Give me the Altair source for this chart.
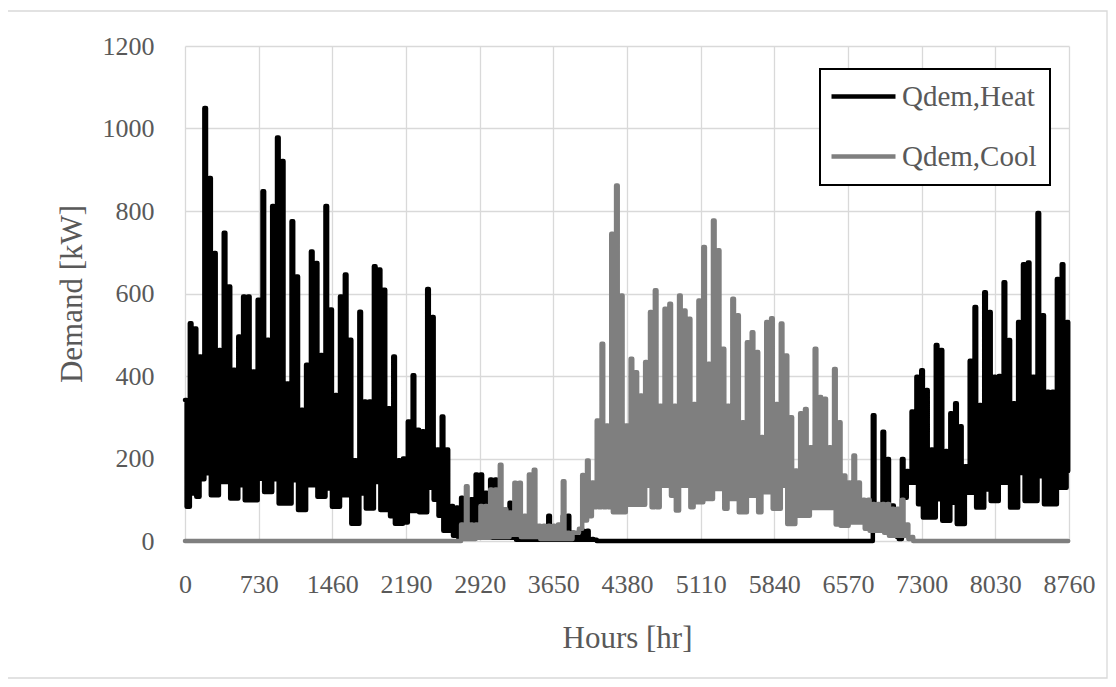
import altair as alt
import pandas as pd

# Hourly demand read off the picture as 2-day windows:
# the window's peak level is held first, then its trough level.
WINDOW_HOURS = 48
PEAK_HOURS = 16

heat_hi = ([342, 528, 515, 447, 1050, 880, 698, 463, 747, 617,
            415, 496, 593, 593, 411, 585, 848, 488, 812, 978,
            921, 382, 775, 641, 318, 427, 702, 674, 451, 812,
            561, 354, 593, 646, 488, 196, 556, 338, 338, 666,
            658, 609, 322, 447, 196, 200, 290, 402, 270, 266,
            611, 543, 222, 302, 222, 85, 81, 105, 77, 101,
            161, 161, 117, 149, 149, 69, 75, 93, 60, 20,
            20, 37, 37, 20, 20, 61, 20, 20, 61, 61,
            20, 10, 25, 25, 5]
           + [0] * 57
           + [305, 86, 265, 199, 86, 10, 199, 170, 314, 398,
              414, 366, 222, 475, 463, 218, 310, 334, 278, 181,
              437, 567, 330, 603, 555, 398, 400, 627, 487, 334,
              531, 671, 675, 398, 795, 547, 362, 362, 635, 671, 531])

heat_lo = ([83, 115, 107, 150, 164, 111, 111, 143, 143, 103,
            103, 135, 99, 99, 99, 151, 119, 119, 150, 91,
            91, 91, 147, 75, 75, 135, 135, 107, 107, 127,
            83, 83, 111, 111, 42, 42, 115, 79, 79, 143,
            75, 75, 60, 42, 42, 45, 73, 73, 70, 70,
            129, 100, 61, 25, 25, 13, 10, 8, 8, 8,
            8, 8, 8, 8, 8, 8, 8, 8]
           + [3] * 17
           + [0] * 57
           + [86, 86, 70, 70, 70, 5, 105, 141, 141, 89,
              57, 57, 57, 101, 49, 49, 93, 41, 41, 117,
              117, 81, 81, 125, 97, 97, 141, 141, 81, 81,
              165, 97, 97, 97, 157, 89, 89, 89, 129, 129, 170])

cool_hi = ([0] * 57
           + [40, 133, 40, 40, 85, 85, 125, 125, 185, 77,
              69, 141, 141, 61, 161, 173, 37, 37, 37, 37,
              40, 145, 20, 20, 20, 160, 195, 142, 292, 478,
              280, 745, 862, 595, 280, 442, 409, 353, 434, 555,
              608, 328, 563, 575, 328, 595, 559, 539, 332, 583,
              713, 430, 777, 705, 466, 328, 587, 547, 288, 482,
              506, 458, 252, 531, 540, 332, 527, 450, 300, 171,
              310, 320, 227, 466, 349, 345, 227, 417, 288, 159,
              142, 207, 142, 100, 100, 90, 90, 90, 90, 78,
              78, 100, 40, 10]
           + [0] * 32)

cool_lo = ([0] * 57
           + [5, 5, 5, 8, 8, 8, 10, 10, 10, 10,
              15, 15, 10, 10, 10, 10, 5, 5, 5, 5,
              5, 5, 5, 20, 30, 50, 60, 82, 82, 82,
              82, 70, 70, 70, 88, 88, 88, 88, 134, 82,
              82, 134, 134, 110, 74, 134, 134, 82, 94, 94,
              102, 102, 126, 126, 78, 102, 102, 70, 70, 110,
              110, 70, 118, 118, 78, 78, 134, 41, 41, 61,
              61, 61, 80, 80, 80, 80, 80, 40, 37, 37,
              45, 45, 45, 30, 25, 25, 25, 20, 13, 13,
              13, 13, 5, 0]
           + [0] * 32)

series_names = ["Qdem,Heat", "Qdem,Cool"]
series_colors = ["#000000", "#7f7f7f"]
x_ticks = [0, 730, 1460, 2190, 2920, 3650, 4380, 5110, 5840, 6570, 7300, 8030, 8760]
y_ticks = [0, 200, 400, 600, 800, 1000, 1200]


def build(name, hi, lo):
    rows = []
    for i, (h, l) in enumerate(zip(hi, lo)):
        rows.append({"hr": WINDOW_HOURS * i, "kW": h, "s": name})
        rows.append({"hr": WINDOW_HOURS * i + PEAK_HOURS, "kW": l, "s": name})
    return pd.DataFrame(rows)


heat_df = build(series_names[0], heat_hi, heat_lo)
cool_df = build(series_names[1], cool_hi, cool_lo)

FONT = "Liberation Serif"
TXT = "#595959"

x_enc = alt.X("hr:Q",
              scale=alt.Scale(domain=[0, 8760], nice=False, zero=False),
              axis=alt.Axis(values=x_ticks, format="d", labelFontSize=26, labelPadding=30,
                            labelFlush=False, labelOverlap=False,
                            title="Hours [hr]", titleFontSize=31,
                            titleY=106, titleBaseline="alphabetic"))
y_enc = alt.Y("kW:Q",
              scale=alt.Scale(domain=[0, 1200], nice=False),
              axis=alt.Axis(values=y_ticks, format="d", labelFontSize=26, labelPadding=31,
                            labelFlush=False, labelOverlap=False,
                            title="Demand [kW]", titleFontSize=31,
                            titleX=-113, titleY=247.5, titleAngle=270,
                            titleAlign="center", titleBaseline="middle"))
color_enc = alt.Color("s:N",
                      scale=alt.Scale(domain=series_names, range=series_colors),
                      legend=alt.Legend(title=None, orient="none", legendX=635, legendY=23,
                                        symbolType="M-2,0H6", symbolSize=256,
                                        symbolStrokeWidth=4.5, labelFont=FONT,
                                        labelFontSize=29, labelColor=TXT, labelOffset=40,
                                        padding=13, rowPadding=30,
                                        strokeColor="#000000", fillColor="#ffffff"))

frame = alt.Chart(pd.DataFrame({"f": [0]})).mark_rect(
    fill="#ffffff", fillOpacity=0, stroke="#d9d9d9", strokeWidth=1.3
).encode(x=alt.value(-178), x2=alt.value(922), y=alt.value(-35), y2=alt.value(632))

line_style = dict(strokeWidth=4.5, strokeJoin="round", strokeCap="round",
                  interpolate="step-after")
heat = alt.Chart(heat_df).mark_line(**line_style).encode(x=x_enc, y=y_enc, color=color_enc)
cool = alt.Chart(cool_df).mark_line(**line_style).encode(x=x_enc, y=y_enc, color=color_enc)

chart = alt.layer(frame, heat, cool).properties(
    width=884, height=495,
    padding={"left": 177, "top": 38, "right": 39, "bottom": 138},
    autosize=alt.AutoSizeParams(type="none"),
).configure_axis(
    labelFont=FONT, titleFont=FONT, labelColor=TXT, titleColor=TXT,
    titleFontWeight="normal", gridColor="#d9d9d9", gridWidth=1.3,
    ticks=False, domain=False,
).configure_legend(
    strokeWidth=2,
).configure_view(
    strokeWidth=0,
)

chart.save("out.html", embed_options={"renderer": "svg", "actions": False})
